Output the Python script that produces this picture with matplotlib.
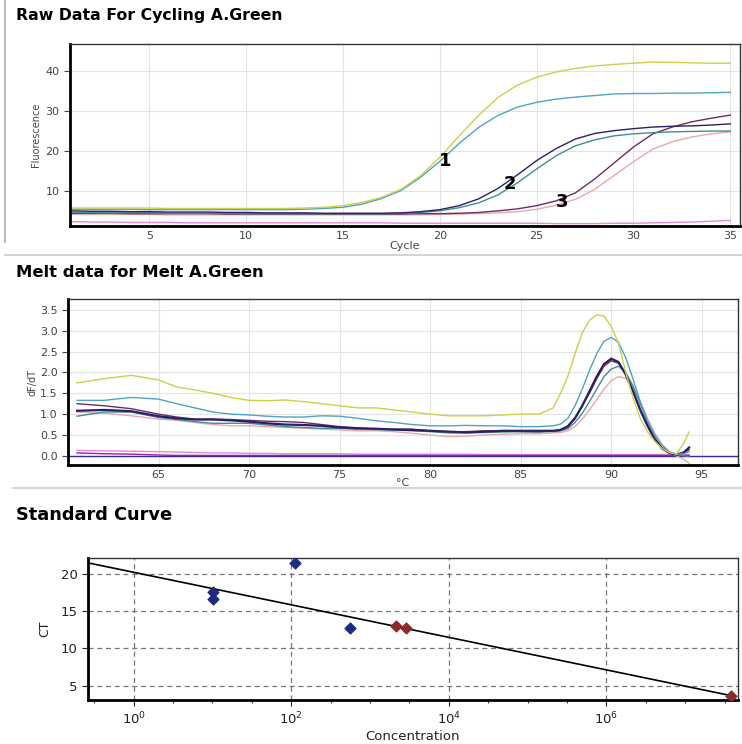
import numpy as np
import matplotlib
matplotlib.use("Agg")
import matplotlib.pyplot as plt
from matplotlib.lines import Line2D
from matplotlib.ticker import FixedLocator, NullFormatter

plt.rcParams['font.family'] = ['DejaVu Sans']

# ---- Raw data for cycling (fluorescence per cycle) ----
cycles = np.arange(1, 36)
raw_yellow = [5.7, 5.7, 5.7, 5.7, 5.7, 5.6, 5.6, 5.6, 5.6, 5.6, 5.6, 5.6, 5.7, 5.9, 6.3, 7.1, 8.4, 10.4, 13.8, 18.4,
              23.8, 28.9, 33.4, 36.5, 38.5, 39.8, 40.7, 41.3, 41.7, 42.0, 42.3, 42.2, 42.1, 42.0, 42.0]
raw_blue = [5.4, 5.4, 5.4, 5.4, 5.3, 5.3, 5.3, 5.3, 5.3, 5.3, 5.3, 5.3, 5.4, 5.6, 5.9, 6.7, 8.1, 10.1, 13.4, 17.4,
            21.9, 25.9, 28.9, 31.0, 32.2, 33.0, 33.5, 33.9, 34.3, 34.4, 34.4, 34.5, 34.5, 34.6, 34.7]
raw_navy = [5.0, 4.9, 4.9, 4.8, 4.8, 4.7, 4.7, 4.7, 4.6, 4.6, 4.5, 4.5, 4.5, 4.4, 4.4, 4.4, 4.4, 4.5, 4.8, 5.3,
            6.3, 8.0, 10.6, 14.0, 17.6, 20.6, 23.0, 24.4, 25.1, 25.6, 26.0, 26.2, 26.3, 26.5, 26.8]
raw_teal = [4.6, 4.6, 4.5, 4.5, 4.5, 4.4, 4.4, 4.4, 4.4, 4.3, 4.3, 4.3, 4.3, 4.3, 4.3, 4.3, 4.3, 4.4, 4.6, 5.0,
            5.8, 7.0, 9.0, 12.0, 15.5, 18.8, 21.3, 22.8, 23.8, 24.3, 24.6, 24.8, 24.9, 25.0, 25.0]
raw_plum = [4.4, 4.4, 4.4, 4.3, 4.3, 4.3, 4.3, 4.3, 4.2, 4.2, 4.2, 4.2, 4.2, 4.2, 4.2, 4.2, 4.2, 4.2, 4.3, 4.3,
            4.4, 4.6, 5.0, 5.5, 6.3, 7.5, 9.5, 13.0, 17.0, 21.0, 24.3, 26.0, 27.3, 28.2, 29.0]
raw_pink = [4.1, 4.1, 4.1, 4.1, 4.1, 4.0, 4.0, 4.0, 4.0, 4.0, 4.0, 4.0, 4.0, 4.0, 4.0, 4.0, 4.0, 4.0, 4.0, 4.1,
            4.2, 4.3, 4.5, 4.8, 5.4, 6.4, 7.9, 10.4, 13.9, 17.3, 20.5, 22.3, 23.5, 24.3, 24.8]
raw_magenta = [2.3, 2.2, 2.2, 2.1, 2.1, 2.1, 2.0, 2.0, 2.0, 2.0, 2.0, 2.0, 2.0, 2.0, 2.0, 2.0, 2.0, 1.9, 1.9, 1.9,
               1.9, 1.9, 1.9, 1.9, 1.9, 1.8, 1.8, 1.8, 1.9, 1.9, 2.0, 2.1, 2.2, 2.4, 2.6]
raw_red = [1.3] * 35

raw_series = [raw_magenta, raw_red, raw_pink, raw_plum, raw_teal, raw_navy, raw_blue, raw_yellow]
raw_colors = ['#e58ad6', '#8b1a1a', '#e8a8b0', '#6e2d62', '#3f9090', '#2b1f66', '#4fa3c9', '#cfcf4a']

curve_labels = ['1', '2', '3']
label_cycle = [20.3, 23.6, 26.3]
label_fluor = [17.5, 11.8, 7.2]

# ---- Melt data (dF/dT vs temperature) ----
temp = [60.5, 62, 63.5, 65, 66, 67, 68, 69, 70, 71, 72, 73, 74, 75, 76, 77, 78, 79, 80, 81, 82, 83, 84, 85, 86,
        86.8, 87.2, 87.6, 88.0, 88.4, 88.8, 89.2, 89.6, 90.0, 90.4, 90.8, 91.2, 91.6, 92.0, 92.4, 92.8, 93.2,
        93.6, 94.0, 94.3]
melt_yellow = [1.75, 1.85, 1.93, 1.82, 1.65, 1.58, 1.5, 1.4, 1.33, 1.32, 1.34, 1.3, 1.25, 1.2, 1.15, 1.15, 1.1,
               1.05, 1.0, 0.96, 0.96, 0.96, 0.98, 1.0, 1.0,
               1.15, 1.5, 1.9, 2.45, 2.95, 3.25, 3.38, 3.35, 3.1, 2.7, 2.0, 1.4, 0.9, 0.58, 0.35, 0.18, 0.08,
               0.04, 0.3, 0.57]
melt_blue = [1.33, 1.33, 1.4, 1.36, 1.25, 1.15, 1.05, 1.0, 0.98, 0.95, 0.93, 0.93, 0.96, 0.95, 0.9, 0.84, 0.8,
             0.75, 0.72, 0.72, 0.73, 0.72, 0.72, 0.7, 0.7,
             0.72, 0.76, 0.9, 1.2, 1.6, 2.05, 2.45, 2.75, 2.84, 2.72, 2.35, 1.85, 1.3, 0.85, 0.5, 0.25, 0.1,
             0.04, 0.05, 0.1]
melt_navy = [1.08, 1.1, 1.07, 0.95, 0.9, 0.87, 0.87, 0.85, 0.82, 0.78, 0.75, 0.74, 0.72, 0.68, 0.66, 0.65, 0.63,
             0.62, 0.6, 0.58, 0.56, 0.58, 0.6, 0.6, 0.6,
             0.6, 0.62, 0.7, 0.9, 1.2, 1.55, 1.9, 2.2, 2.33, 2.25, 1.95, 1.55, 1.1, 0.72, 0.4, 0.18, 0.07,
             0.03, 0.08, 0.2]
melt_teal = [0.95, 1.05, 1.05, 0.92, 0.87, 0.82, 0.78, 0.78, 0.78, 0.74, 0.7, 0.68, 0.66, 0.66, 0.64, 0.63, 0.62,
             0.6, 0.58, 0.55, 0.55, 0.56, 0.57, 0.58, 0.58,
             0.58, 0.6, 0.65, 0.8, 1.02, 1.3, 1.6, 1.9, 2.08, 2.15, 2.0, 1.68, 1.25, 0.82, 0.45, 0.2, 0.08,
             0.03, 0.0, -0.02]
melt_plum = [1.25, 1.2, 1.13, 1.0, 0.93, 0.88, 0.88, 0.87, 0.85, 0.83, 0.82, 0.8, 0.75, 0.7, 0.67, 0.64, 0.64,
             0.64, 0.6, 0.58, 0.58, 0.6, 0.6, 0.58, 0.57,
             0.6, 0.63, 0.72, 0.92, 1.2, 1.5, 1.85, 2.15, 2.28, 2.22, 1.95, 1.55, 1.12, 0.74, 0.42, 0.2, 0.08,
             0.03, 0.06, 0.15]
melt_pink = [1.05, 1.02, 0.96, 0.88, 0.85, 0.8, 0.75, 0.72, 0.72, 0.7, 0.68, 0.66, 0.64, 0.62, 0.6, 0.6, 0.58,
             0.54, 0.5, 0.46, 0.47, 0.5, 0.52, 0.53, 0.53,
             0.55, 0.56, 0.6, 0.7, 0.88, 1.1, 1.35, 1.6, 1.8, 1.9, 1.86, 1.65, 1.3, 0.9, 0.55, 0.28, 0.1,
             0.0, -0.08, -0.18]
melt_magenta = [0.13, 0.12, 0.11, 0.1, 0.09, 0.08, 0.07, 0.07, 0.06, 0.06, 0.05, 0.05, 0.05, 0.05, 0.04, 0.04,
                0.04, 0.04, 0.04, 0.04, 0.04, 0.03, 0.03, 0.03, 0.03,
                0.03, 0.03, 0.03, 0.03, 0.03, 0.03, 0.03, 0.03, 0.03, 0.03, 0.03, 0.03, 0.03, 0.03, 0.03, 0.03,
                0.03, 0.03, 0.03, 0.03]
melt_purple = [0.07, 0.05, 0.04, 0.02, 0.01, 0.01, 0.01, 0.01, 0.01, 0.01, 0.01, 0.01, 0.01, 0.01, 0.01, 0.01,
               0.01, 0.01, 0.01, 0.01, 0.01, 0.01, 0.01, 0.01, 0.01,
               0.01, 0.01, 0.01, 0.01, 0.01, 0.01, 0.01, 0.01, 0.01, 0.01, 0.01, 0.01, 0.01, 0.01, 0.01, 0.01,
               0.01, 0.01, 0.01, 0.01]

melt_series = [melt_magenta, melt_purple, melt_pink, melt_plum, melt_teal, melt_navy, melt_blue, melt_yellow]
melt_colors = ['#e58ad6', '#a0209a', '#e8a8b0', '#6e2d62', '#3f9090', '#2b1f66', '#4fa3c9', '#cfcf4a']

# ---- Standard curve ----
std_conc_blue = [10 ** 1.01, 10 ** 1.01, 10 ** 2.05, 10 ** 2.74]
std_ct_blue = [17.5, 16.6, 21.4, 12.7]
std_conc_red = [10 ** 3.33, 10 ** 3.45, 10 ** 7.58]
std_ct_red = [13.0, 12.7, 3.7]
fit_conc = [10 ** -0.58, 10 ** 7.6]
fit_ct = [21.45, 3.65]

fig = plt.figure(figsize=(7.42, 7.44), dpi=100)
tick_col = '#444444'


def style_frame(ax, size=8):
    for s in ['left', 'bottom']:
        ax.spines[s].set_linewidth(2.0)
        ax.spines[s].set_color('black')
    for s in ['top', 'right']:
        ax.spines[s].set_linewidth(1.0)
        ax.spines[s].set_color('#333333')
    ax.tick_params(labelsize=size, colors=tick_col, length=4, width=0.8)


# Panel 1
ax1 = fig.add_axes([0.0943, 0.6962, 0.903, 0.2446])
for vals, c in zip(raw_series, raw_colors):
    ax1.plot(cycles, vals, color=c, lw=1.0)
for t, x, y in zip(curve_labels, label_cycle, label_fluor):
    ax1.text(x, y, t, fontsize=13, fontweight='bold', ha='center', va='center')
ax1.set_xlim(0.9, 35.5)
ax1.set_ylim(1.2, 46.8)
ax1.set_xticks([5, 10, 15, 20, 25, 30, 35])
ax1.set_yticks([10, 20, 30, 40])
ax1.grid(True, color='#e4e4e4', lw=0.8)
ax1.set_axisbelow(True)
style_frame(ax1)
ax1.tick_params(axis='x', length=0)
ax1.set_xlabel('Cycle', fontsize=8, color=tick_col, labelpad=0)
ax1.set_ylabel('Fluorescence', fontsize=7, color=tick_col, labelpad=3)
fig.text(0.022, 0.979, 'Raw Data For Cycling A.Green', fontsize=11.3, fontweight='bold', va='center')

# Panel 2
ax2 = fig.add_axes([0.0916, 0.375, 0.903, 0.2231])
ax2.axhline(0, color='#3a2a9a', lw=1.0)
for vals, c in zip(melt_series, melt_colors):
    ax2.plot(temp, vals, color=c, lw=1.6 if c == '#2b1f66' else 1.0)
ax2.set_xlim(60, 97)
ax2.set_ylim(-0.22, 3.76)
ax2.set_xticks([65, 70, 75, 80, 85, 90, 95])
ax2.set_yticks([0.0, 0.5, 1.0, 1.5, 2.0, 2.5, 3.0, 3.5])
ax2.set_yticklabels(['0.0', '0.5', '1.0', '1.5', '2.0', '2.5', '3.0', '3.5'])
ax2.grid(True, color='#e4e4e4', lw=0.8)
ax2.set_axisbelow(True)
style_frame(ax2)
ax2.tick_params(axis='x', length=0)
ax2.set_xlabel('°C', fontsize=8, color=tick_col, labelpad=-1)
ax2.set_ylabel('dF/dT', fontsize=7, color=tick_col, labelpad=2)
fig.text(0.022, 0.634, 'Melt data for Melt A.Green', fontsize=11.8, fontweight='bold', va='center')

# Panel 3
ax3 = fig.add_axes([0.1186, 0.0591, 0.876, 0.1909])
ax3.set_xscale('log')
ax3.plot(fit_conc, fit_ct, color='black', lw=1.2)
ax3.scatter(std_conc_blue, std_ct_blue, marker='D', s=30, color='#1c2a80', zorder=3)
ax3.scatter(std_conc_red, std_ct_red, marker='D', s=30, color='#8a2a2a', zorder=3)
ax3.set_xlim(10 ** -0.58, 10 ** 7.67)
ax3.set_ylim(3.1, 22.1)
ax3.xaxis.set_major_locator(FixedLocator([1, 1e2, 1e4, 1e6]))
ax3.xaxis.set_minor_locator(FixedLocator([10 ** k for k in np.arange(-0.5, 7.6, 0.5)]))
ax3.xaxis.set_minor_formatter(NullFormatter())
ax3.set_yticks([5, 10, 15, 20])
ax3.grid(True, which='major', color='#777777', ls=(0, (4, 3)), lw=0.9)
style_frame(ax3, size=9.5)
ax3.tick_params(colors='#222222')
ax3.tick_params(axis='x', which='minor', length=2)
ax3.set_xlabel('Concentration', fontsize=9.5, color='#222222', labelpad=2)
ax3.set_ylabel('CT', fontsize=9, color='#222222', labelpad=7)
fig.text(0.022, 0.308, 'Standard Curve', fontsize=12.8, fontweight='bold', va='center')

# screenshot separators
fig.add_artist(Line2D([0.007, 0.007], [0.675, 1.0], color='#bbbbbb', lw=1.5))
fig.add_artist(Line2D([0.007, 1.0], [0.657, 0.657], color='#cccccc', lw=1.2))
fig.add_artist(Line2D([0.017, 1.0], [0.344, 0.344], color='#cccccc', lw=1.2))

fig.savefig('out.png', dpi=100)
